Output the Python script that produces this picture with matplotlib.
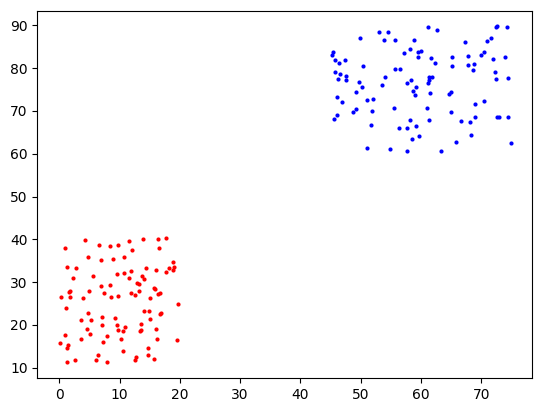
import matplotlib
matplotlib.use("Agg")
import matplotlib.pyplot as plt

red_x = [4.31, 1.00, 6.63, 8.46, 9.79, 4.81, 6.97, 8.96, 1.33, 2.82,
         5.64, 9.62, 2.32, 6.97, 8.46, 1.82, 1.66, 4.98, 7.46, 0.33,
         1.82, 3.98, 8.62, 9.79,
         11.61, 13.93, 16.42, 17.75, 16.59, 12.11, 10.78, 18.91, 14.43, 16.09,
         18.25, 19.07, 18.91, 17.75, 10.78, 11.94, 13.77, 11.61, 14.10, 12.94,
         13.27, 15.76, 15.92, 16.75, 16.42, 13.27, 11.94, 12.61, 15.09,
         1.16, 4.81, 3.65, 5.31, 7.13, 9.29, 7.13, 9.62, 9.79, 4.64,
         5.14, 1.00, 7.96, 3.65, 0.17, 1.49, 1.33, 7.30, 6.47, 6.14,
         2.65, 1.33, 7.96,
         19.74, 14.10, 14.93, 16.92, 16.75, 15.09, 13.60, 10.95, 10.62, 13.60,
         13.44, 16.09, 10.28, 16.25, 19.57, 10.62, 14.76, 14.76, 12.77, 12.61,
         15.76]
red_y = [39.77, 37.90, 38.60, 38.37, 38.60, 35.80, 35.10, 35.33, 33.46, 33.23,
         31.36, 31.83, 30.89, 29.03, 29.26, 27.86, 27.62, 27.86, 27.39, 26.46,
         26.46, 26.22, 26.46, 26.69,
         39.54, 40.01, 40.01, 40.24, 37.90, 37.44, 35.80, 34.63, 33.23, 32.76,
         33.23, 33.46, 32.76, 32.30, 32.06, 32.53, 31.36, 30.89, 30.66, 29.73,
         29.49, 28.56, 28.32, 27.39, 27.16, 27.86, 27.39, 26.92, 26.22,
         23.89, 22.72, 21.08, 21.08, 21.78, 21.55, 19.91, 19.91, 18.75, 18.98,
         17.81, 17.58, 17.35, 16.64, 15.71, 15.24, 14.54, 15.94, 12.91, 11.74,
         11.74, 11.27, 11.27,
         24.82, 23.19, 23.19, 22.72, 22.48, 21.32, 20.15, 19.45, 18.51, 18.75,
         18.51, 18.98, 16.64, 16.64, 16.41, 13.84, 14.54, 12.91, 12.44, 11.74,
         11.97]

blue_x = [53.08, 54.57, 49.93, 53.91, 55.73, 58.88, 58.22, 57.22, 59.55, 59.55,
          45.45, 45.28, 45.78, 46.44, 47.44, 50.42, 55.73, 56.56, 45.78, 46.61,
          47.60, 47.60, 46.28, 54.07, 49.76, 50.26, 53.57, 57.72, 58.38, 59.21,
          61.20, 62.70, 72.48, 72.65, 74.31, 67.34, 70.99, 71.65, 60.04, 61.70,
          62.37, 65.18, 65.18, 67.84, 67.84, 68.83, 68.67, 70.00, 70.49, 71.98,
          73.98, 72.32, 72.48, 74.47, 61.37, 61.87, 61.37, 61.20,
          49.26, 46.11, 46.94, 51.09, 52.08, 58.72, 59.05, 49.26, 48.76, 51.92,
          55.57, 46.11, 45.61, 58.22, 51.75, 56.39, 57.72, 59.21, 59.71, 58.58,
          51.09, 54.90, 57.72,
          61.54, 64.69, 65.02, 61.04, 65.02, 69.00, 70.49, 61.37, 66.68, 68.17,
          69.00, 72.65, 72.98, 74.47, 68.34, 65.85, 74.97, 63.36]
blue_y = [88.36, 88.36, 86.96, 86.50, 86.50, 86.50, 84.39, 83.46, 83.69, 82.52,
          83.69, 82.99, 81.82, 81.12, 81.82, 80.42, 79.72, 79.72, 79.02, 78.55,
          78.09, 77.15, 77.38, 77.85, 76.68, 75.52, 75.98, 76.45, 77.15, 75.52,
          89.53, 88.83, 89.53, 89.77, 89.53, 86.03, 86.26, 86.96, 83.93, 82.29,
          81.12, 82.52, 80.42, 82.76, 80.66, 80.89, 79.49, 82.99, 83.69, 82.06,
          82.52, 79.02, 77.38, 77.62, 77.85, 77.85, 77.15, 76.45,
          74.35, 73.18, 72.01, 72.48, 72.71, 74.58, 73.65, 70.38, 69.68, 69.91,
          70.61, 68.97, 68.04, 67.81, 66.64, 65.94, 65.94, 66.40, 64.07, 63.37,
          61.27, 61.03, 60.56,
          74.11, 73.88, 74.35, 70.61, 69.68, 71.54, 72.25, 67.81, 67.57, 67.34,
          68.51, 68.51, 68.51, 68.51, 64.30, 62.67, 62.43, 60.56]

fig = plt.figure(figsize=(5.43, 4.13), dpi=100)
ax = fig.add_axes([37.3 / 543, 34.7 / 413, 495 / 543, 367.3 / 413])
ax.scatter(red_x, red_y, s=9, c="red", linewidths=0)
ax.scatter(blue_x, blue_y, s=9, c="blue", linewidths=0)
ax.set_xlim(-3.65, 78.45)
ax.set_ylim(7.53, 93.34)
ax.set_xticks([0, 10, 20, 30, 40, 50, 60, 70])
ax.set_yticks([10, 20, 30, 40, 50, 60, 70, 80, 90])
fig.savefig("out.png", dpi=100)
